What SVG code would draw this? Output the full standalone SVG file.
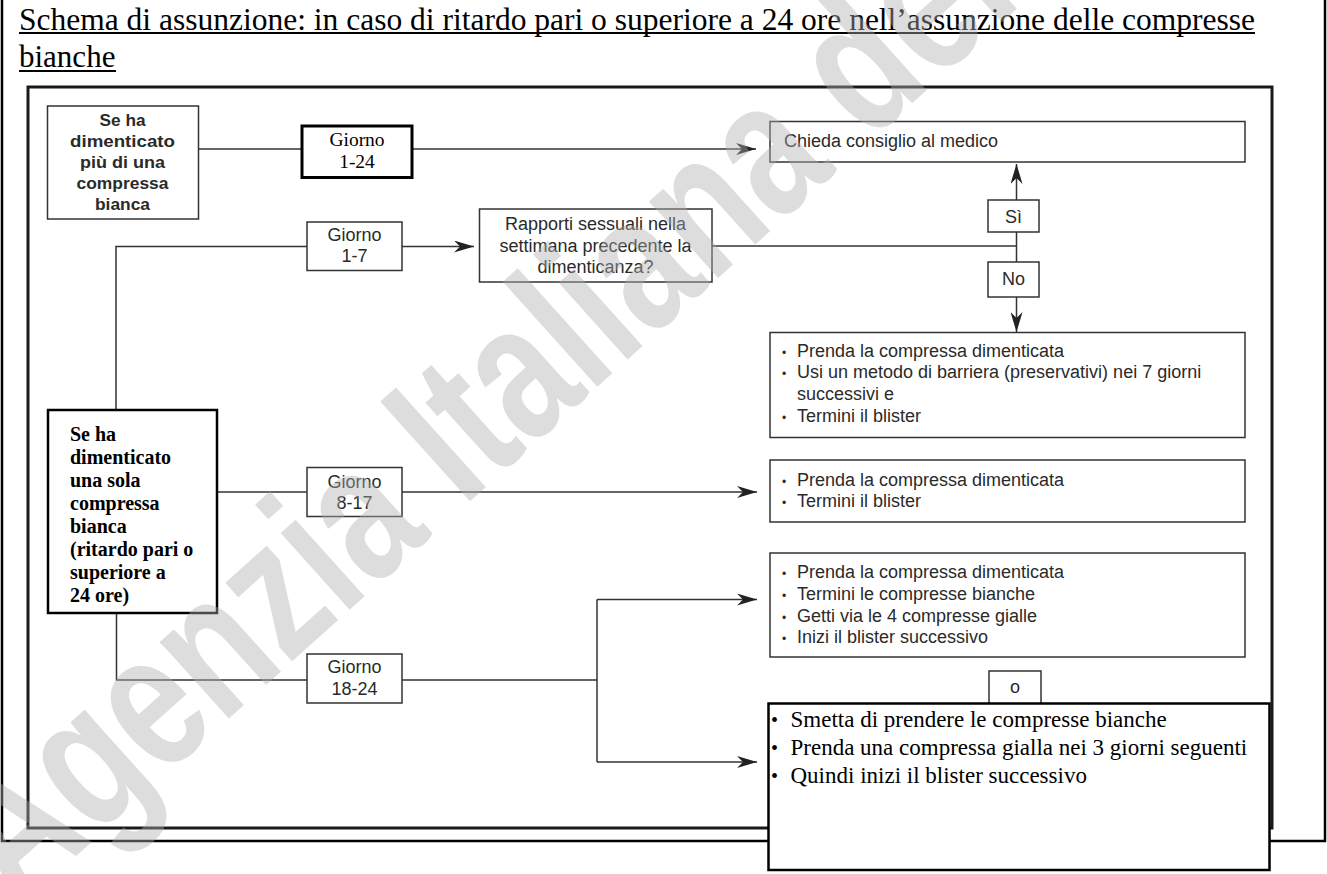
<svg xmlns="http://www.w3.org/2000/svg" width="1327" height="874" viewBox="0 0 1327 874">
<style>
.box{fill:#fff;stroke:#333;stroke-width:1.5}
.bbox{fill:#fff;stroke:#000;stroke-width:2.5}
.ln{fill:none;stroke:#333;stroke-width:1.5}
.sans{font-family:"Liberation Sans",Arial,sans-serif;font-size:18px;fill:#2a2a2a}
.bold{font-family:"Liberation Sans",Arial,sans-serif;font-size:17px;font-weight:bold;fill:#2a2a2a}
.serif{font-family:"Liberation Serif","Times New Roman",serif;fill:#000}
.c{text-anchor:middle}
.dot{font-size:12px}
</style>
<defs>
<marker id="ah" markerUnits="userSpaceOnUse" markerWidth="20" markerHeight="12" refX="20" refY="6" orient="auto">
<path d="M0,0 L20,6 L0,12 L6,6 z" fill="#222"/>
</marker>
</defs>
<rect width="1327" height="874" fill="#fff"/>
<g id="page-frame">
<polyline points="2,0 2,841 1325,841 1325,0" fill="none" stroke="#000" stroke-width="2.5"/>
</g>
<g id="title" class="serif" font-size="31">
<text x="19" y="29.5" textLength="1236" lengthAdjust="spacingAndGlyphs">Schema di assunzione: in caso di ritardo pari o superiore a 24 ore nell’assunzione delle compresse</text>
<text x="19" y="67">bianche</text>
<line x1="19" y1="33" x2="1255" y2="33" stroke="#000" stroke-width="2"/>
<line x1="19" y1="71" x2="116" y2="71" stroke="#000" stroke-width="2"/>
</g>
<g id="frame">
<rect x="28" y="87" width="1244" height="741" fill="none" stroke="#1a1a1a" stroke-width="3"/>
</g>
<g id="connectors" class="ln">
<line x1="199" y1="149" x2="302" y2="149"/>
<line x1="412" y1="149" x2="756" y2="149" marker-end="url(#ah)"/>
<polyline points="116,410 116,246.5 307,246.5"/>
<line x1="402" y1="246.5" x2="474" y2="246.5" marker-end="url(#ah)"/>
<line x1="712" y1="246" x2="1016.5" y2="246"/>
<line x1="1016.5" y1="200" x2="1016.5" y2="164" marker-end="url(#ah)"/>
<line x1="1016.5" y1="232" x2="1016.5" y2="262"/>
<line x1="1016.5" y1="297" x2="1016.5" y2="332" marker-end="url(#ah)"/>
<line x1="217" y1="492" x2="307" y2="492"/>
<line x1="402" y1="492" x2="757" y2="492" marker-end="url(#ah)"/>
<polyline points="116.5,613 116.5,680 307,680"/>
<line x1="402" y1="680" x2="597" y2="680"/>
<line x1="597" y1="599.5" x2="597" y2="762"/>
<line x1="597" y1="599.5" x2="757" y2="599.5" marker-end="url(#ah)"/>
<line x1="597" y1="762" x2="757" y2="762" marker-end="url(#ah)"/>
</g>
<g id="node-more">
<rect class="box" x="47.5" y="106" width="151" height="113"/>
<g class="bold c">
<text x="122.5" y="125.5" textLength="46" lengthAdjust="spacingAndGlyphs">Se ha</text>
<text x="122.5" y="146.5" textLength="105" lengthAdjust="spacingAndGlyphs">dimenticato</text>
<text x="122.5" y="167.5" textLength="85" lengthAdjust="spacingAndGlyphs">più di una</text>
<text x="122.5" y="188.5" textLength="92" lengthAdjust="spacingAndGlyphs">compressa</text>
<text x="122.5" y="209.5" textLength="55" lengthAdjust="spacingAndGlyphs">bianca</text>
</g>
</g>
<g id="day-1-24">
<rect x="302" y="126" width="110" height="51.5" fill="#fff" stroke="#000" stroke-width="3"/>
<g class="serif c" font-size="19.5">
<text x="357" y="145.5">Giorno</text>
<text x="357" y="168">1-24</text>
</g>
</g>
<g id="advice">
<rect class="box" x="770" y="121.5" width="475" height="40.5"/>
<text class="sans" x="784" y="146.5">Chieda consiglio al medico</text>
</g>
<g id="day-1-7">
<rect class="box" x="307" y="222" width="95" height="48.5"/>
<g class="sans c"><text x="354.5" y="241">Giorno</text><text x="354.5" y="262">1-7</text></g>
</g>
<g id="question">
<rect class="box" x="479.5" y="209" width="232.5" height="73"/>
<g class="sans c" font-size="17.5">
<text x="595.5" y="230">Rapporti sessuali nella</text>
<text x="595.5" y="251.5">settimana precedente la</text>
<text x="595.5" y="273">dimenticanza?</text>
</g>
</g>
<g id="yes">
<rect class="box" x="988" y="200" width="51" height="32"/>
<text class="sans c" x="1013.5" y="223">Sì</text>
</g>
<g id="no">
<rect class="box" x="988" y="262" width="51" height="35"/>
<text class="sans c" x="1013.5" y="285">No</text>
</g>
<g id="action-1-7">
<rect class="box" x="770" y="332.5" width="475" height="105"/>
<g class="sans">
<text x="782" y="356.7" class="dot">•</text><text x="797" y="356.7">Prenda la compressa dimenticata</text>
<text x="782" y="378.3" class="dot">•</text><text x="797" y="378.3">Usi un metodo di barriera (preservativi) nei 7 giorni</text>
<text x="797" y="399.5">successivi e</text>
<text x="782" y="421.7" class="dot">•</text><text x="797" y="421.7">Termini il blister</text>
</g>
</g>
<g id="node-one">
<rect class="bbox" x="48" y="410" width="169" height="203"/>
<g class="serif" font-size="20" font-weight="bold">
<text x="70" y="440.7">Se ha</text>
<text x="70" y="463.5">dimenticato</text>
<text x="70" y="486.5">una sola</text>
<text x="70" y="509.5">compressa</text>
<text x="70" y="532.5">bianca</text>
<text x="70" y="555.5">(ritardo pari o</text>
<text x="70" y="578.5">superiore a</text>
<text x="70" y="601.5">24 ore)</text>
</g>
</g>
<g id="day-8-17">
<rect class="box" x="307" y="467.5" width="95" height="49"/>
<g class="sans c"><text x="354.5" y="487.5">Giorno</text><text x="354.5" y="508.5">8-17</text></g>
</g>
<g id="action-8-17">
<rect class="box" x="770" y="460" width="475" height="62"/>
<g class="sans">
<text x="782" y="485.7" class="dot">•</text><text x="797" y="485.7">Prenda la compressa dimenticata</text>
<text x="782" y="506.7" class="dot">•</text><text x="797" y="506.7">Termini il blister</text>
</g>
</g>
<g id="day-18-24">
<rect class="box" x="307" y="654" width="95" height="49"/>
<g class="sans c"><text x="354.5" y="673">Giorno</text><text x="354.5" y="695">18-24</text></g>
</g>
<g id="action-18-24-a">
<rect class="box" x="770" y="553" width="475" height="104"/>
<g class="sans">
<text x="782" y="578" class="dot">•</text><text x="797" y="578">Prenda la compressa dimenticata</text>
<text x="782" y="600" class="dot">•</text><text x="797" y="600">Termini le compresse bianche</text>
<text x="782" y="621.5" class="dot">•</text><text x="797" y="621.5">Getti via le 4 compresse gialle</text>
<text x="782" y="643" class="dot">•</text><text x="797" y="643">Inizi il blister successivo</text>
</g>
</g>
<g id="or">
<rect class="box" x="989" y="671" width="52" height="40"/>
<text class="sans c" x="1015" y="693" font-size="17">o</text>
</g>
<g id="action-18-24-b">
<rect class="bbox" x="768.5" y="703.5" width="501" height="166.5"/>
<g class="serif" font-size="23">
<text x="771" y="727" font-size="20">•</text><text x="790.5" y="727">Smetta di prendere le compresse bianche</text>
<text x="771" y="755" font-size="20">•</text><text x="790.5" y="755">Prenda una compressa gialla nei 3 giorni seguenti</text>
<text x="771" y="783" font-size="20">•</text><text x="790.5" y="783">Quindi inizi il blister successivo</text>
</g>
</g>
<g id="watermark" opacity="0.42">
<text transform="translate(16,910) rotate(-42) scale(0.75,1)" font-family="Liberation Sans,Arial,sans-serif" font-weight="bold" font-size="195" fill="#b0b0b0">Agenzia Italiana del Farmaco</text>
</g>
</svg>
